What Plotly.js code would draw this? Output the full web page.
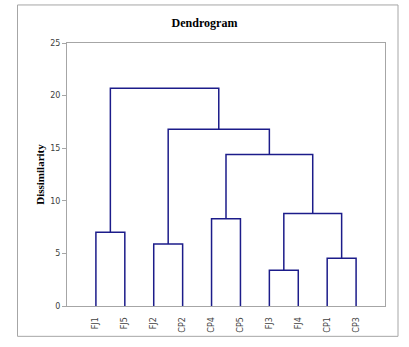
<!DOCTYPE html>
<html><head><meta charset="utf-8">
<script src="https://cdn.plot.ly/plotly-3.0.1.min.js"></script>
<style>html,body{margin:0;padding:0;background:#fff;}#chart{width:409px;height:347px;}</style>
</head><body><div id="chart"></div>
<script>
// Leaf labels in display order
const leafLabels = ['FJ1','FJ5','FJ2','CP2','CP4','CP5','FJ3','FJ4','CP1','CP3'];
// Merges: node ids 0..9 are leaves, new clusters get ids 10, 11, ...
const mergeLeft   = [0, 2, 4, 6, 8, 13, 12, 11, 10];
const mergeRight  = [1, 3, 5, 7, 9, 14, 15, 16, 17];
const mergeHeight = [7.0, 5.9, 8.3, 3.4, 4.55, 8.8, 14.4, 16.8, 20.7];
const yTicks = [0, 5, 10, 15, 20, 25];

const nodeX = leafLabels.map((_, i) => i + 1);
const nodeY = leafLabels.map(() => 0);
const xs = [], ys = [];
for (let k = 0; k < mergeHeight.length; k++) {
  const a = mergeLeft[k], b = mergeRight[k], h = mergeHeight[k];
  xs.push(nodeX[a], nodeX[a], nodeX[b], nodeX[b], null);
  ys.push(nodeY[a], h, h, nodeY[b], null);
  nodeX.push((nodeX[a] + nodeX[b]) / 2);
  nodeY.push(h);
}

const trace = {
  type: 'scatter', mode: 'lines', x: xs, y: ys,
  line: {color: '#1c1c8a', width: 1.5}, hoverinfo: 'skip', showlegend: false
};

const grey = '#a6a6a6';
const layout = {
  width: 409, height: 347,
  margin: {l: 67, r: 24, t: 43, b: 41},
  paper_bgcolor: '#fff', plot_bgcolor: '#fff',
  title: {text: '<b>Dendrogram</b>', font: {family: 'Liberation Serif', size: 12, color: '#000'}, x: 0.5, xanchor: 'center', y: 1 - 23/347, yanchor: 'middle'},
  xaxis: {
    range: [0, 11], tickmode: 'array', tickvals: leafLabels.map((_, i) => i + 1), ticktext: leafLabels,
    tickangle: -90, ticks: 'outside', ticklen: 7, tickcolor: 'rgba(0,0,0,0)',
    tickfont: {family: 'DejaVu Sans', size: 8, color: '#404040'},
    showgrid: false, zeroline: false, showline: true, linecolor: grey, linewidth: 1, mirror: true, fixedrange: true
  },
  yaxis: {
    range: [0, 25], tickmode: 'array', tickvals: yTicks, ticktext: yTicks.map(String),
    ticks: 'outside', ticklen: 4, tickcolor: grey,
    tickfont: {family: 'DejaVu Sans', size: 8, color: '#404040'},
    title: {text: '<b>Dissimilarity</b>', font: {family: 'Liberation Serif', size: 11, color: '#000'}, standoff: 3},
    showgrid: false, zeroline: false, showline: true, linecolor: grey, linewidth: 1, mirror: true, fixedrange: true
  },
  shapes: [{
    type: 'rect', xref: 'paper', yref: 'paper',
    x0: (17.5 - 67) / 318, x1: (398 - 67) / 318,
    y0: (305.7 - 336) / 262.7, y1: (305.7 - 5) / 262.7,
    line: {color: grey, width: 1}, fillcolor: 'rgba(0,0,0,0)', layer: 'below'
  }]
};
Plotly.newPlot('chart', [trace], layout, {displayModeBar: false, staticPlot: true});
</script></body></html>
